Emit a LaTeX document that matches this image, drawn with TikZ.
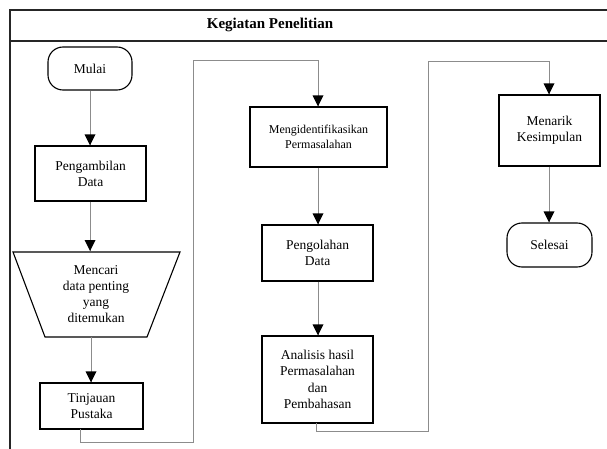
\documentclass[tikz,border=0pt]{standalone}
\usepackage{fontspec}
\setmainfont{Liberation Serif}
\newcommand\downtip[1]{\fill[black] (#1) -- ++(-5.5,-11) -- ++(11,0) -- cycle;}
\begin{document}
\begin{tikzpicture}[x=1pt,y=-1pt,
  txt/.style={font=\fontsize{13.5}{16}\selectfont, align=center, inner sep=0pt},
  box/.style={txt, draw=black, line width=1.1pt, minimum width=#1},
  flowline/.style={draw=black!45, line width=1pt},
  frame/.style={draw=black!85, line width=1.3pt}]
\useasboundingbox (0,0) rectangle (607,449);
% frame
\draw[frame] (607,10) -- (10,10) -- (10,449);
\draw[frame] (10,41) -- (607,41);
\node[txt, font=\fontsize{15}{18}\selectfont\bfseries] (title) at (270,25) {Kegiatan Penelitian};
% column 1
\node[box=84pt, minimum height=43pt, rounded corners=15pt] (mulai) at (90,68.5) {Mulai};
\node[box=111pt, minimum height=55pt] (peng) at (90.5,173.5) {Pengambilan\\Data};
\draw[line width=1.1pt] (13,252) -- (180,252) -- (147,337) -- (45,337) -- cycle;
\coordinate (traptop) at (90,251);
\coordinate (trapbot) at (91,337);
\node[txt] (cari) at (96,294) {Mencari\\data penting\\yang\\ditemukan};
\node[box=103pt, minimum height=46pt] (tinj) at (91.5,406) {Tinjauan\\Pustaka};
\coordinate (e1) at (mulai.south |- peng.north);
\draw[flowline] (mulai.south) -- (e1); \downtip{e1}
\coordinate (e2) at (peng.south -| traptop);
\draw[flowline] (e2) -- (traptop); \downtip{traptop}
\coordinate (e3) at (trapbot |- tinj.north);
\draw[flowline] (trapbot) -- (e3); \downtip{e3}
% column 2
\node[box=137pt, minimum height=60pt, font=\fontsize{12}{15}\selectfont] (ident) at (318.5,137) {Mengidentifikasikan\\Permasalahan};
\node[box=111pt, minimum height=56pt] (olah) at (317.5,253) {Pengolahan\\Data};
\node[box=111pt, minimum height=87pt, font=\fontsize{13.5}{16.5}\selectfont] (anal) at (317.5,379.5) {Analisis hasil\\Permasalahan\\dan\\Pembahasan};
\coordinate (t1) at (80,429);
\coordinate (e4) at (318,0 |- ident.north);
\draw[flowline] (t1) -- (80,442) -- (193,442) -- (193,61) -- (318,61) -- (e4); \downtip{e4}
\coordinate (s5) at (ident.south -| 318,0);
\coordinate (e5) at (318,0 |- olah.north);
\draw[flowline] (s5) -- (e5); \downtip{e5}
\coordinate (e6) at (318,0 |- anal.north);
\draw[flowline] (olah.south -| 318,0) -- (e6); \downtip{e6}
% column 3
\node[box=101pt, minimum height=71pt] (menarik) at (549.5,130.5) {Menarik\\Kesimpulan};
\node[box=85pt, minimum height=44pt, rounded corners=15pt] (selesai) at (549.5,245) {Selesai};
\coordinate (a1) at (316,423);
\coordinate (e7) at (549,0 |- menarik.north);
\draw[flowline] (a1) -- (316,431) -- (428,431) -- (428,62) -- (549,62) -- (e7); \downtip{e7}
\coordinate (s8) at (menarik.south -| 549,0);
\coordinate (e8) at (549,0 |- selesai.north);
\draw[flowline] (s8) -- (e8); \downtip{e8}
\end{tikzpicture}
\end{document}
